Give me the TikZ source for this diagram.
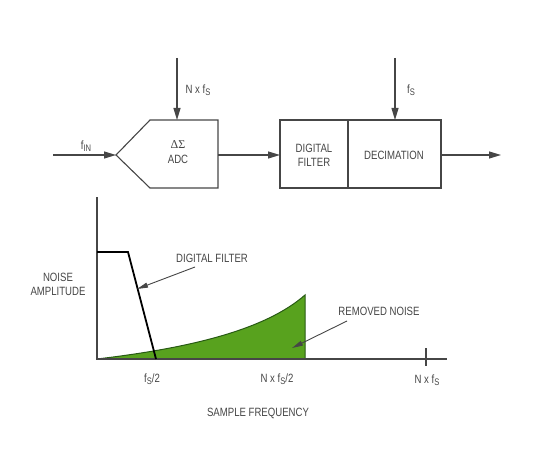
\documentclass[tikz,border=0pt]{standalone}
\usepackage{fontspec}
\setmainfont{Liberation Sans}[FakeStretch=0.8]
\newfontfamily\greekserif{Liberation Serif}
\usetikzlibrary{arrows.meta}
\definecolor{ln}{RGB}{70,70,70}
\definecolor{noisegreen}{RGB}{88,162,30}
\definecolor{edgegreen}{RGB}{40,90,20}
\newcommand\sbs[1]{\raisebox{-0.35ex}{\fontsize{9.5}{10}\selectfont #1}}
\tikzset{
  wire/.style={draw=ln, line width=1.1pt, -{Triangle[length=12pt,width=7pt]}},
  blk/.style={draw=ln, line width=1.1pt},
  lbl/.style={font=\fontsize{12}{13}\selectfont, text=ln, inner sep=0pt},
  note/.style={draw=ln, line width=0.9pt, -{Triangle[length=11pt,width=5pt]}},
}
\begin{document}
\begin{tikzpicture}[x=1pt,y=-1pt]
\useasboundingbox (0,0) rectangle (540,473);
% --- ADC block
\coordinate (tip) at (116,155);
\draw[blk] (tip) -- (150,120) -- (218,120) -- (218,188) -- (150,188) -- cycle;
\coordinate (adcR) at (218,155);
\coordinate (adcT) at (177,120);
\node[lbl] (dsig) at (178,145) {\greekserif ΔΣ};
\node[lbl] (adc) at (178,159) {ADC};
% --- filter/decimation block
\draw[blk] (280,120) rectangle (441,188);
\draw[blk] (348,120) -- (348,188);
\coordinate (filtL) at (280,155);
\coordinate (decR) at (441,155);
\coordinate (decT) at (395,120);
\node[lbl, align=center] (dfilt) at (314,155) {DIGITAL\\[1pt]FILTER};
\node[lbl] (dec) at (394,155) {DECIMATION};
% --- inputs/outputs
\coordinate (inS) at (53,155);
\coordinate (nfsS) at (177,58);
\coordinate (fsS) at (395,58);
\coordinate (outE) at (501,155);
\draw[wire] (inS) -- (tip);
\draw[wire] (nfsS) -- (adcT);
\draw[wire] (fsS) -- (decT);
\draw[wire] (adcR) -- (filtL);
\draw[wire] (decR) -- (outE);
\node[lbl] (fin) at (86,146) {f\sbs{IN}};
\node[lbl] (nfs) at (198,90) {N x f\sbs{S}};
\node[lbl] (fs) at (411,90) {f\sbs{S}};
% --- graph
\coordinate (O) at (97,359);
\fill[noisegreen] (O) .. controls (190,348) and (265,330) .. (305,295) -- (305,359) -- cycle;
\draw[edgegreen, line width=1pt] (O) .. controls (190,348) and (265,330) .. (305,295) -- (305,359);
\draw[ln, line width=1.4pt] (97,197) -- (O) -- (447,359);
\draw[ln, line width=1.2pt] (426,348) -- (426,366);
\draw[black, line width=1.8pt] (97,252) -- (128,252) -- (156,359);
\node[lbl, align=center] (amp) at (58,284) {NOISE\\[1pt]AMPLITUDE};
\node[lbl] (dflbl) at (212,258) {DIGITAL FILTER};
\coordinate (dfS) at (195,267);
\coordinate (dfE) at (137,289);
\draw[note] (dfS) -- (dfE);
\node[lbl] (rnlbl) at (379,311) {REMOVED NOISE};
\coordinate (rnS) at (347,321);
\coordinate (rnE) at (292,348);
\draw[note] (rnS) -- (rnE);
\node[lbl] (t1) at (152,379) {f\sbs{S}/2};
\node[lbl] (t2) at (277,379) {N x f\sbs{S}/2};
\node[lbl] (t3) at (427,380) {N x f\sbs{S}};
\node[lbl] (sf) at (258,413) {SAMPLE FREQUENCY};
\end{tikzpicture}
\end{document}
